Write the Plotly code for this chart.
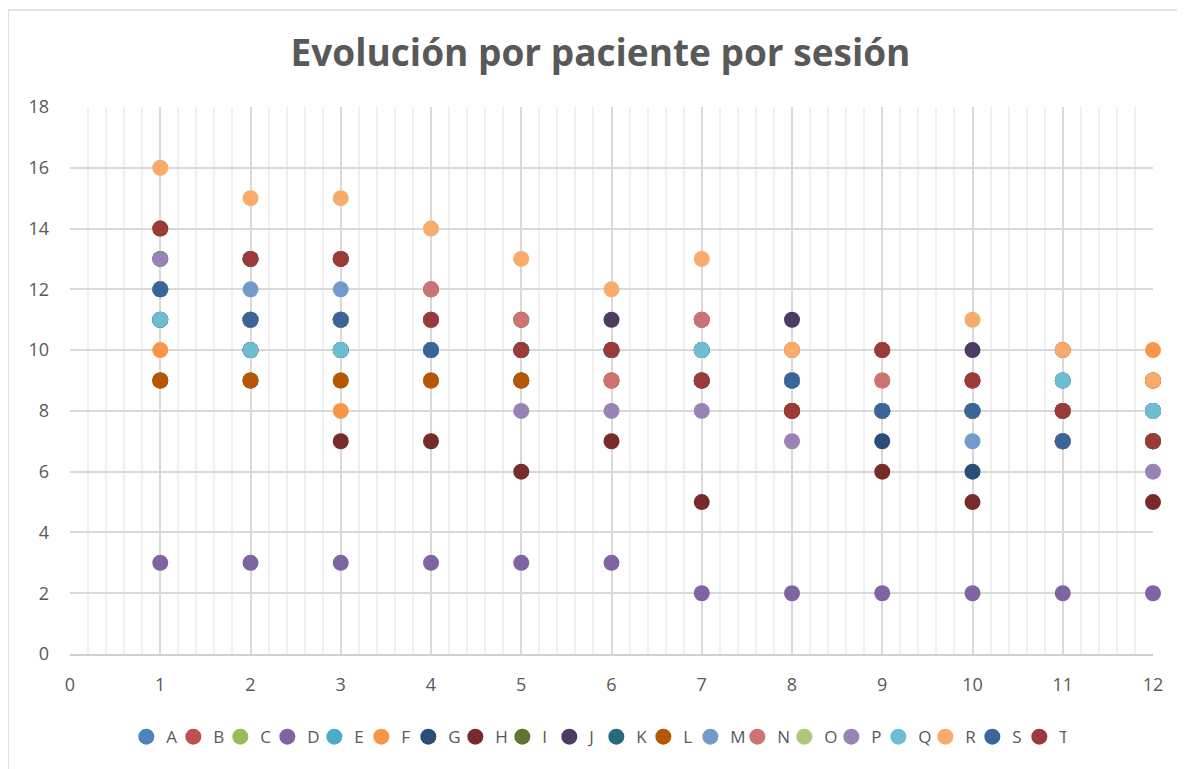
import plotly.graph_objects as go

sessions = [1, 2, 3, 4, 5, 6, 7, 8, 9, 10, 11, 12]
patients = ["A", "B", "C", "D", "E", "F", "G", "H", "I", "J",
            "K", "L", "M", "N", "O", "P", "Q", "R", "S", "T"]

A = [12, 11, 11, 10, 10, 10, 9, 9, 8, 8, 7, 7]
B = [14, 13, 13, 11, 10, 10, 9, 8, 10, 9, 8, 7]
C = [9, 9, 9, 9, 9, 9, 9, 8, 8, 8, 8, 7]
D = [3, 3, 3, 3, 3, 3, 2, 2, 2, 2, 2, 2]
E = [11, 10, 10, 10, 10, 10, 10, 9, 8, 8, 9, 8]
F = [10, 10, 8, 9, 9, 9, 10, 10, 9, 9, 9, 10]
G = [12, 11, 11, 10, 9, 10, 9, 9, 7, 6, 7, 7]
H = [9, 9, 7, 7, 6, 7, 5, 8, 6, 5, 7, 5]
I = [11, 10, 10, 10, 10, 10, 10, 9, 8, 8, 8, 8]
J = [13, 13, 13, 12, 11, 11, 11, 11, 10, 10, 10, 9]
K = [11, 10, 10, 10, 10, 10, 10, 9, 8, 8, 9, 8]
L = [9, 9, 9, 9, 9, 9, 9, 8, 8, 8, 8, 9]
M = [12, 12, 12, 11, 10, 10, 10, 9, 8, 7, 7, 8]
N = [12, 11, 11, 12, 11, 9, 11, 10, 9, 9, 8, 9]
O = [12, 11, 11, 10, 10, 10, 9, 9, 8, 8, 7, 7]
P = [13, 13, 13, 11, 8, 8, 8, 7, 8, 9, 8, 6]
Q = [11, 10, 10, 10, 10, 10, 10, 9, 8, 8, 9, 8]
R = [16, 15, 15, 14, 13, 12, 13, 10, 10, 11, 10, 9]
S = [12, 11, 11, 10, 10, 10, 9, 9, 8, 8, 7, 7]
T = [14, 13, 13, 11, 10, 10, 9, 8, 10, 9, 8, 7]

series = [A, B, C, D, E, F, G, H, I, J, K, L, M, N, O, P, Q, R, S, T]
colors = ["#4F81BD", "#C0504D", "#9BBB59", "#8064A2", "#4BACC6", "#F79646",
          "#2C4D75", "#772C2A", "#5F7530", "#4D3B62", "#276A7C", "#B65708",
          "#729ACA", "#CD7371", "#AFC97A", "#9983B5", "#6FBDD1", "#F9AB6B",
          "#3B6598", "#9B3B39"]

fig = go.Figure()
for name, vals, col in zip(patients, series, colors):
    fig.add_trace(go.Scatter(
        x=sessions, y=vals, name=name, mode="markers",
        marker=dict(size=16, color=col, line=dict(width=0)),
        cliponaxis=False,
    ))

grey = "#595959"
fig.update_layout(
    width=1185, height=769,
    paper_bgcolor="white", plot_bgcolor="white",
    margin=dict(l=62, r=40, t=99, b=123),
    title=dict(text="<b>Evolución por paciente por sesión</b>",
               x=0.5, xanchor="center", y=0.942, yanchor="middle",
               font=dict(family="Open Sans", size=37, color=grey)),
    font=dict(family="Open Sans", color=grey),
    showlegend=True,
    legend=dict(orientation="h", x=0.486, xanchor="center", y=-0.152, yanchor="middle",
                font=dict(size=17, color=grey), itemwidth=30,
                entrywidth=2, entrywidthmode="pixels", traceorder="normal"),
    xaxis=dict(range=[0, 12], dtick=1, tick0=0, showgrid=True,
               gridcolor="#D9D9D9", gridwidth=1.5, zeroline=False,
               showline=True, linecolor="#D0D0D0", linewidth=1.5,
               ticks="", ticklabelstandoff=14, tickfont=dict(size=18, color=grey)),
    yaxis=dict(range=[0, 18], dtick=2, tick0=0, showgrid=True,
               gridcolor="#D9D9D9", gridwidth=1.5, zeroline=False,
               showline=False, ticks="", ticklabelstandoff=20,
               tickfont=dict(size=18, color=grey)),
    shapes=[dict(type="rect", xref="paper", yref="paper",
                 x0=-0.0572, x1=1.0286, y0=-0.25, y1=1.1773,
                 line=dict(color="#D9D9D9", width=1.5), fillcolor="rgba(0,0,0,0)",
                 layer="below")],
)
fig.update_xaxes(minor=dict(dtick=0.2, showgrid=True, gridcolor="#F0F0F0", gridwidth=1.5))
fig.write_html("out.html")
